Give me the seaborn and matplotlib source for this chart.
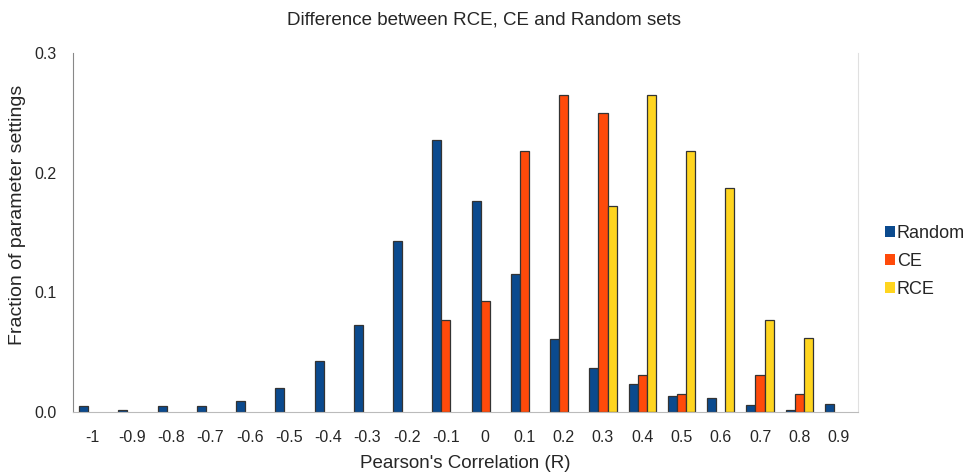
import pandas as pd
import seaborn as sns
import matplotlib.pyplot as plt

categories = ['-1', '-0.9', '-0.8', '-0.7', '-0.6', '-0.5', '-0.4', '-0.3', '-0.2', '-0.1',
              '0', '0.1', '0.2', '0.3', '0.4', '0.5', '0.6', '0.7', '0.8', '0.9']
random_vals = [0.005, 0.002, 0.005, 0.005, 0.009, 0.020, 0.043, 0.073, 0.143, 0.227,
               0.176, 0.115, 0.061, 0.037, 0.023, 0.013, 0.012, 0.006, 0.002, 0.007]
ce_vals = [0, 0, 0, 0, 0, 0, 0, 0, 0, 0.077,
           0.093, 0.218, 0.265, 0.250, 0.031, 0.015, 0, 0.031, 0.015, 0]
rce_vals = [0, 0, 0, 0, 0, 0, 0, 0, 0, 0,
            0, 0, 0, 0.172, 0.265, 0.218, 0.187, 0.077, 0.062, 0]
series = ['Random', 'CE', 'RCE']
colors = ['#0b4a8e', '#ff4a0a', '#ffd51f']

rows = []
for name, vals in zip(series, [random_vals, ce_vals, rce_vals]):
    for c, v in zip(categories, vals):
        rows.append({'R': c, 'Fraction': v, 'Set': name})
df = pd.DataFrame(rows)

sns.set_style('white')
plt.rcParams['font.family'] = ['Liberation Sans', 'DejaVu Sans']

fig = plt.figure(figsize=(9.68, 4.73), dpi=100)
ax = fig.add_axes([0.0755, 0.129, 0.811, 0.759])

sns.barplot(data=df, x='R', y='Fraction', hue='Set', order=categories,
            hue_order=series, palette=colors, saturation=1, width=0.69,
            edgecolor='#333333', linewidth=0.9, ax=ax)

# hide outlines of empty bars
for p in ax.patches:
    if p.get_height() == 0:
        p.set_linewidth(0)

ax.set_ylim(0, 0.3)
ax.set_xlim(-0.5, len(categories) - 0.5)
ax.set_yticks([0, 0.1, 0.2, 0.3])
ax.set_yticklabels(['0.0', '0.1', '0.2', '0.3'])
ax.tick_params(axis='y', length=4, color='#888888', labelsize=11.5, pad=8)
ax.tick_params(axis='x', length=0, labelsize=11.5, pad=13)

ax.spines['top'].set_visible(False)
ax.spines['left'].set_color('#888888')
ax.spines['bottom'].set_color('#bbbbbb')
ax.spines['right'].set_color('#e0e0e0')

ax.set_xlabel("Pearson's Correlation (R)", fontsize=13.5, labelpad=7)
ax.set_ylabel('Fraction of parameter settings', fontsize=14)
ax.yaxis.set_label_coords(-0.06, 0.55)
fig.suptitle('Difference between RCE, CE and Random sets', fontsize=13.5, y=0.975)

handles, labels = ax.get_legend_handles_labels()
ax.legend(handles, labels, loc='center left', bbox_to_anchor=(1.025, 0.42),
          frameon=False, fontsize=13, handlelength=0.55, handleheight=0.55,
          handletextpad=0.1, labelspacing=0.62, borderaxespad=0.0)

fig.savefig('out.png', dpi=100)
